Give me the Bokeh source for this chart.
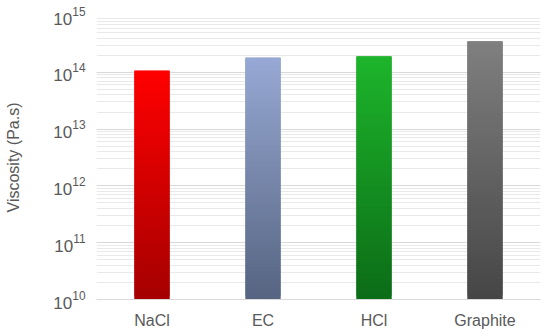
import numpy as np
from bokeh.plotting import figure
from bokeh.models import Range1d, FactorRange, LogTicker
from bokeh.embed import file_html
from bokeh.resources import INLINE

categories = ["NaCl", "EC", "HCl", "Graphite"]
viscosity = [1.07e14, 1.8e14, 1.9e14, 3.5e14]
top_colors = ["#ff0000", "#97a9d4", "#1db52b", "#7f7f7f"]
bottom_colors = ["#a50000", "#566481", "#0c6c17", "#464646"]

y_min, y_max = 1e10, 1e15

p = figure(width=550, height=336, x_range=FactorRange(factors=categories),
           y_range=Range1d(y_min, y_max), y_axis_type="log",
           output_backend="svg", toolbar_location=None,
           min_border_left=96, min_border_right=10, min_border_top=15, min_border_bottom=37)
p.outline_line_color = None
p.background_fill_color = "white"
p.border_fill_color = "white"


def hex2rgb(h):
    h = h.lstrip("#")
    return np.array([int(h[i:i + 2], 16) for i in (0, 2, 4)], dtype=float)


def mix(a, b, t):
    c = (hex2rgb(a) * (1 - t) + hex2rgb(b) * t).round().astype(int)
    return "#%02x%02x%02x" % tuple(c)


# solid base bars (hide seams between gradient segments)
p.vbar(x=categories, bottom=y_min, top=viscosity, width=0.315,
       fill_color=[mix(b, t, 0.5) for b, t in zip(bottom_colors, top_colors)],
       line_color=None)

n_seg = 60
xs, bots, tops, cols = [], [], [], []
for cat, v, tc, bc in zip(categories, viscosity, top_colors, bottom_colors):
    edges = np.logspace(np.log10(y_min), np.log10(v), n_seg + 1)
    for i in range(n_seg):
        t = (i + 0.5) / n_seg
        xs.append(cat)
        bots.append(edges[i])
        tops.append(edges[min(i + 2, n_seg)] if i < n_seg - 1 else edges[i + 1])
        cols.append(mix(bc, tc, t))

p.vbar(x=xs, bottom=bots, top=tops, width=0.315, fill_color=cols, line_color=None)

p.yaxis.ticker = LogTicker(num_minor_ticks=10)
p.ygrid.grid_line_color = "#d9d9d9"
p.ygrid.grid_line_width = 1
p.ygrid.minor_grid_line_color = "#e9e9e9"
p.xgrid.grid_line_color = None

p.yaxis.axis_line_color = None
p.yaxis.major_tick_line_color = None
p.yaxis.minor_tick_line_color = None
p.yaxis.major_tick_out = 0
p.yaxis.minor_tick_out = 0
p.yaxis.major_label_text_font = "Liberation Sans"
p.yaxis.major_label_text_font_size = "17px"
p.yaxis.major_label_text_color = "#595959"
p.yaxis.major_label_standoff = 11
p.yaxis.axis_label = "Viscosity (Pa.s)"
p.yaxis.axis_label_text_font = "Liberation Sans"
p.yaxis.axis_label_text_font_size = "16px"
p.yaxis.axis_label_text_font_style = "normal"
p.yaxis.axis_label_text_color = "#595959"
p.yaxis.axis_label_standoff = 28

p.xaxis.axis_line_color = "#d9d9d9"
p.xaxis.axis_line_width = 1
p.xaxis.major_tick_line_color = None
p.xaxis.minor_tick_line_color = None
p.xaxis.major_tick_out = 0
p.xaxis.major_label_text_font = "Liberation Sans"
p.xaxis.major_label_text_font_size = "16px"
p.xaxis.major_label_text_color = "#595959"
p.xaxis.major_label_standoff = 12

open("out.html", "w").write(file_html(p, INLINE))
